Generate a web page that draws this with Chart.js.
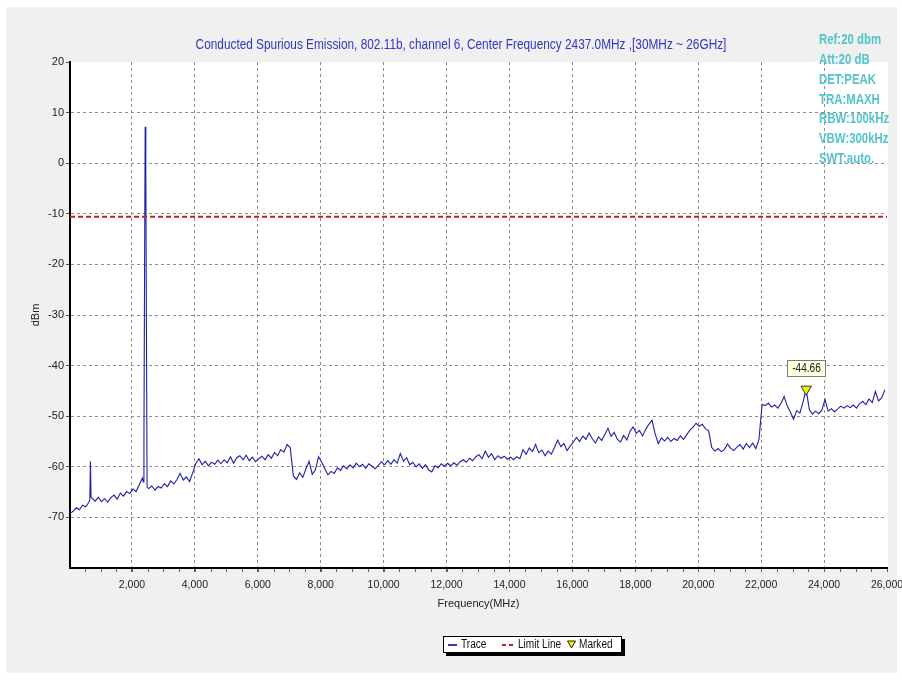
<!DOCTYPE html>
<html>
<head>
<meta charset="utf-8">
<title>Conducted Spurious Emission</title>
<script src="https://cdn.jsdelivr.net/npm/chart.js@4.4.0/dist/chart.umd.min.js"></script>
<style>
  html, body { margin: 0; padding: 0; background: #ffffff; }
  #wrap { position: relative; width: 902px; height: 681px; }
</style>
</head>
<body>
<div id="wrap"><canvas id="spurChart" width="902" height="681"></canvas></div>
<script>
// Texts
const chartTitle = 'Conducted Spurious Emission, 802.11b, channel 6, Center Frequency 2437.0MHz ,[30MHz ~ 26GHz]';
const settingLines = ['Ref:20 dbm', 'Att:20 dB', 'DET:PEAK', 'TRA:MAXH', 'RBW:100kHz', 'VBW:300kHz', 'SWT:auto.'];

// Axis ticks
const xTickValues = [2000, 4000, 6000, 8000, 10000, 12000, 14000, 16000, 18000, 20000, 22000, 24000, 26000];
const yTickValues = [20, 10, 0, -10, -20, -30, -40, -50, -60, -70];

// Trace sampled every 100 MHz starting at 30 MHz (dBm)
const traceStartMHz = 30;
const traceStepMHz = 100;
const traceDbm = [
  -69.2, -68.8, -68.1, -68.5, -67.6, -67.9, -67.0, -66.2, -66.8, -66.0,
  -66.9, -66.3, -67.0, -66.1, -65.6, -66.4, -65.2, -65.8, -64.9, -65.3,
  -64.4, -64.9, -63.6, -62.2, -63.0, -64.3, -63.8, -64.6, -63.9, -64.2,
  -63.3, -63.9, -62.8, -63.4, -62.5, -61.3, -62.6, -62.0, -62.9, -61.2,
  -59.3, -58.4, -59.6, -58.9, -59.8, -59.1, -59.5, -58.7, -59.4, -58.6,
  -59.2, -58.0, -59.3, -58.2, -57.8, -58.6, -57.7, -58.8, -58.1, -59.0,
  -58.4, -57.9, -58.6, -57.6, -58.3, -57.2, -57.8, -56.6, -57.1, -55.6,
  -56.2, -61.8, -62.5, -61.2, -62.1, -60.4, -58.9, -61.5, -60.6, -58.0,
  -59.1, -60.4, -61.6, -60.9, -61.3, -60.2, -60.7, -59.8, -60.4, -59.6,
  -60.2, -59.3, -60.0, -59.5, -60.3, -59.4, -59.9, -60.4, -59.7, -59.0,
  -59.6, -58.8, -59.5, -58.6, -59.3, -57.4, -58.9, -58.2, -59.6, -59.1,
  -60.0, -59.4, -60.3, -59.6, -60.6, -61.0, -59.8, -60.2, -59.4, -59.9,
  -59.3, -59.8, -59.2, -59.7, -59.0, -58.6, -59.1, -58.3, -58.8, -58.0,
  -57.6, -58.4, -56.9, -58.1, -57.4, -58.6, -57.8, -58.3, -57.9, -58.5,
  -58.1, -58.6, -58.0, -58.4, -56.6, -57.5, -56.3, -57.0, -55.6, -57.2,
  -56.7, -57.8, -56.9, -57.5, -56.2, -54.7, -56.0, -55.4, -56.8, -55.9,
  -55.1, -54.2, -55.0, -53.9, -54.6, -53.3, -54.4, -55.3, -54.1, -54.8,
  -53.6, -52.4, -54.0, -53.2, -54.6, -55.1, -53.8, -54.7, -53.0, -52.1,
  -53.4, -52.8, -53.9, -52.6, -51.6, -50.8, -53.5, -55.4, -54.3, -54.9,
  -54.2, -55.0, -54.4, -54.8, -53.9, -54.6, -53.7, -52.8, -52.2, -51.4,
  -52.0, -51.6, -52.5, -52.9, -56.2, -56.9, -56.4, -57.0, -56.6, -55.5,
  -56.3, -56.8, -56.1, -55.6, -56.5, -55.4, -56.2, -55.3, -56.4, -54.6,
  -47.7, -47.9, -47.4, -48.2, -47.8, -48.4, -47.5, -46.1, -48.0, -49.2,
  -50.6, -48.9, -49.4, -47.2, -44.66, -48.7, -49.6, -49.0, -49.5, -48.8,
  -46.7, -49.0, -48.5, -49.1, -48.6, -48.0, -48.4, -47.9, -48.3, -47.8,
  -48.4, -47.5, -47.1, -47.7, -46.6, -47.3, -45.1, -47.0, -46.4, -44.8
];

// Narrow spikes (carrier and a small spur), read at finer resolution
const spikeMHz = [660, 680, 700, 2360, 2380, 2400, 2420, 2440, 2460, 2480];
const spikeDbm = [-66.5, -58.9, -66.0, -63.0, -56.0, -21.5, 7.2, -2.2, -32.7, -64.0];
const carrierSpan = [2350, 2490];

const limitDbm = -10.6;
const markerMHz = 23430;
const markerDbm = -44.66;

const SANS = '"Liberation Sans", Arial, sans-serif';
const GRID_COLOR = '#8e8e8e';
const CLEAR = 'rgba(0,0,0,0)';

// Build the trace points
const tracePoints = [];
traceDbm.forEach(function(v, i) {
  const f = traceStartMHz + i * traceStepMHz;
  if (f > carrierSpan[0] && f < carrierSpan[1]) return;
  tracePoints.push({ x: f, y: v });
});
spikeMHz.forEach(function(f, i) {
  tracePoints.push({ x: f, y: spikeDbm[i] });
});
tracePoints.sort(function(a, b) { return a.x - b.x; });

// no narrow face installed, so squeeze text horizontally
function narrowText(ctx, text, x, y, sx) {
  ctx.save();
  ctx.translate(x, y);
  ctx.scale(sx, 1);
  ctx.fillText(text, 0, 0);
  ctx.restore();
}

/**
 * Background panel, header texts, minor ticks, marker label and legend box
 */
const decorPlugin = {
  id: 'decor',
  beforeDraw(chart) {
    const { ctx, chartArea: a } = chart;
    ctx.save();
    ctx.fillStyle = '#ffffff';
    ctx.fillRect(0, 0, chart.width, chart.height);
    ctx.fillStyle = '#f0f0f0';
    ctx.fillRect(6, 7, 891, 666);
    ctx.fillStyle = '#ffffff';
    ctx.fillRect(a.left, a.top, a.right - a.left + 1, a.bottom - a.top);
    ctx.restore();
  },
  afterDraw(chart) {
    const { ctx, chartArea: a } = chart;
    const xs = chart.scales.x;
    const ys = chart.scales.y;
    ctx.save();
    ctx.textBaseline = 'middle';

    // title
    ctx.font = '14px ' + SANS;
    ctx.fillStyle = '#3434c4';
    ctx.textAlign = 'center';
    narrowText(ctx, chartTitle, 461, 45, 0.845);

    // analyser settings
    ctx.font = 'bold 15px ' + SANS;
    ctx.fillStyle = '#55c3cb';
    ctx.textAlign = 'left';
    settingLines.forEach(function(line, i) {
      narrowText(ctx, line, 819, 40 + i * 19.8, 0.76);
    });

    // minor ticks on the frequency axis
    ctx.strokeStyle = '#666666';
    ctx.lineWidth = 1;
    for (let f = 500; f < 26000; f += 500) {
      const px = Math.round(xs.getPixelForValue(f)) + 0.5;
      ctx.beginPath();
      ctx.moveTo(px, a.bottom + 1);
      ctx.lineTo(px, a.bottom + 4);
      ctx.stroke();
    }

    // marker value box
    const mx = xs.getPixelForValue(markerMHz);
    const my = ys.getPixelForValue(markerDbm);
    const bw = 38, bh = 16;
    const bx = Math.round(mx - bw / 2) + 0.5;
    const by = Math.round(my - 29) + 0.5;
    ctx.fillStyle = '#ffffe1';
    ctx.fillRect(bx, by, bw, bh);
    ctx.strokeStyle = '#7a7a7a';
    ctx.strokeRect(bx, by, bw, bh);
    ctx.fillStyle = '#222222';
    ctx.font = '12px ' + SANS;
    ctx.textAlign = 'center';
    narrowText(ctx, markerDbm.toFixed(2), bx + bw / 2, by + bh / 2 + 0.5, 0.84);

    // legend box with shadow
    const lx = 443, ly = 636, lw = 179, lh = 17;
    ctx.fillStyle = '#000000';
    ctx.fillRect(lx + 3, ly + 3, lw, lh);
    ctx.fillStyle = '#ffffff';
    ctx.fillRect(lx, ly, lw, lh);
    ctx.strokeStyle = '#000000';
    ctx.strokeRect(lx + 0.5, ly + 0.5, lw - 1, lh - 1);
    const cy = ly + lh / 2 + 0.5;

    ctx.strokeStyle = '#3a3ab0';
    ctx.lineWidth = 2;
    ctx.beginPath();
    ctx.moveTo(448, cy);
    ctx.lineTo(457, cy);
    ctx.stroke();

    ctx.strokeStyle = '#d02020';
    ctx.setLineDash([4, 3]);
    ctx.beginPath();
    ctx.moveTo(502, cy);
    ctx.lineTo(516, cy);
    ctx.stroke();
    ctx.setLineDash([]);

    ctx.fillStyle = '#f2f200';
    ctx.strokeStyle = '#222222';
    ctx.lineWidth = 1;
    ctx.beginPath();
    ctx.moveTo(567.5, cy - 4);
    ctx.lineTo(575.5, cy - 4);
    ctx.lineTo(571.5, cy + 3);
    ctx.closePath();
    ctx.fill();
    ctx.stroke();

    ctx.fillStyle = '#111111';
    ctx.font = '12px ' + SANS;
    ctx.textAlign = 'left';
    narrowText(ctx, 'Trace', 461, cy, 0.84);
    narrowText(ctx, 'Limit Line', 518, cy, 0.84);
    narrowText(ctx, 'Marked', 579, cy, 0.84);

    ctx.restore();
  }
};

const ctx = document.getElementById('spurChart').getContext('2d');

new Chart(ctx, {
  type: 'line',
  data: {
    datasets: [
      {
        label: 'Trace',
        data: tracePoints,
        borderColor: '#1f1fa8',
        borderWidth: 1.1,
        pointRadius: 0,
        tension: 0,
        order: 2
      },
      {
        label: 'Limit Line',
        data: [{ x: traceStartMHz, y: limitDbm }, { x: 26000, y: limitDbm }],
        borderColor: '#c81e1e',
        borderWidth: 2,
        borderDash: [5, 3],
        pointRadius: 0,
        order: 1
      },
      {
        label: 'Marked',
        data: [{ x: markerMHz, y: markerDbm }],
        showLine: false,
        pointStyle: 'triangle',
        rotation: 180,
        pointRadius: 6,
        pointBackgroundColor: '#f2f200',
        pointBorderColor: '#333333',
        pointBorderWidth: 1,
        order: 0
      }
    ]
  },
  options: {
    responsive: false,
    animation: false,
    layout: { padding: { left: 0, top: 62, right: 0, bottom: 0 } },
    plugins: {
      legend: { display: false },
      tooltip: { enabled: false }
    },
    scales: {
      x: {
        type: 'linear',
        min: traceStartMHz,
        max: 26000,
        afterBuildTicks: function(scale) {
          scale.ticks = xTickValues.map(function(v) { return { value: v }; });
        },
        afterFit: function(scale) {
          scale.height = 113;
          scale.paddingRight = 15;
        },
        ticks: {
          color: '#222222',
          padding: 7,
          maxRotation: 0,
          autoSkip: false,
          font: { family: SANS, size: 10.5 },
          callback: function(value) {
            return value.toLocaleString('en-US');
          }
        },
        grid: {
          color: function(c) {
            return c.tick && c.tick.value === 26000 ? CLEAR : GRID_COLOR;
          },
          lineWidth: 1,
          tickLength: 4,
          tickColor: '#555555'
        },
        border: { display: true, color: '#000000', width: 2, dash: [3, 3] },
        title: {
          display: true,
          text: 'Frequency(MHz)',
          color: '#222222',
          font: { family: SANS, size: 11 },
          padding: { top: 0, bottom: 70 }
        }
      },
      y: {
        min: -80,
        max: 20,
        afterBuildTicks: function(scale) {
          scale.ticks = yTickValues.map(function(v) { return { value: v }; });
        },
        afterFit: function(scale) { scale.width = 70; },
        ticks: {
          color: '#222222',
          padding: 2,
          font: { family: SANS, size: 11 }
        },
        grid: {
          color: function(c) {
            return c.tick && c.tick.value === 20 ? CLEAR : GRID_COLOR;
          },
          lineWidth: 1,
          tickLength: 4,
          tickColor: '#555555'
        },
        border: { display: true, color: '#000000', width: 2, dash: [3, 3] },
        title: {
          display: true,
          text: 'dBm',
          color: '#222222',
          font: { family: SANS, size: 11 },
          padding: { top: 29, bottom: 0 }
        }
      }
    }
  },
  plugins: [decorPlugin]
});
</script>
</body>
</html>
